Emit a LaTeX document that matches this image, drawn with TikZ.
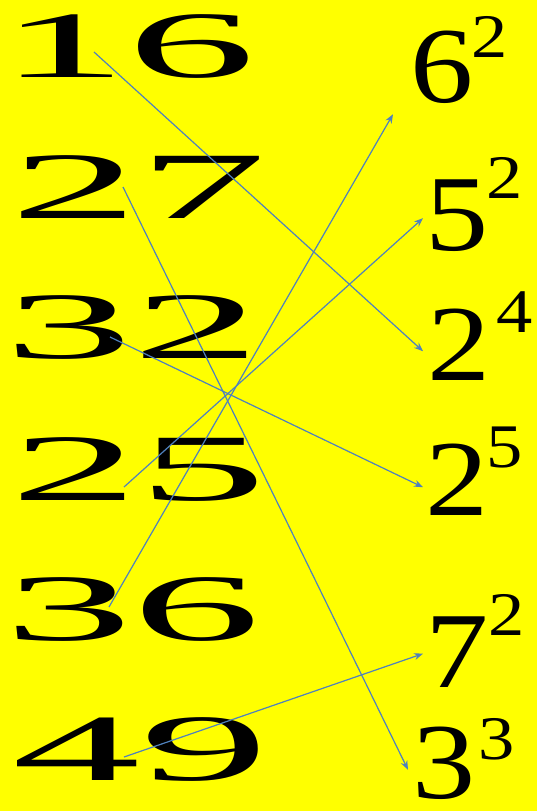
\documentclass[tikz,border=0pt]{standalone}
\usepackage{fontspec}
\setmainfont{Liberation Serif}
\usepackage{graphicx}
\usetikzlibrary{arrows.meta}
\definecolor{bgyellow}{RGB}{255,255,0}
\definecolor{arrblue}{RGB}{79,129,189}
\newcommand{\widenum}[1]{\scalebox{2.7}[1]{#1}}
\newcommand{\powdigit}[1]{\scalebox{1.17}[1]{#1}}

\begin{document}
\begin{tikzpicture}[x=1pt, y=-1pt,
    lnum/.style={anchor=base west, inner sep=0pt, font=\fontsize{95}{95}\selectfont},
    pw/.style={anchor=base west, inner sep=0pt, font=\fontsize{108}{108}\selectfont},
    ex/.style={anchor=base west, inner sep=0pt, font=\fontsize{62}{62}\selectfont},
    ar/.style={arrblue, line width=1.2pt, -{Stealth[length=9pt, width=7pt, inset=3pt]}}
  ]
  % background
  \fill[bgyellow] (0,0) rectangle (537,811);
  \useasboundingbox (0,0) rectangle (537,811);
  % left column: the numbers
  \node[lnum] (n16) at (-1,77) {\widenum{16}};
  \node[lnum] (n27) at (10,218) {\widenum{27}};
  \node[lnum] (n32) at (4,358) {\widenum{32}};
  \node[lnum] (n25) at (10,500) {\widenum{25}};
  \node[lnum] (n36) at (4,640) {\widenum{36}};
  \node[lnum] (n49) at (12,780) {\widenum{49}};
  % right column: the powers
  \node[pw] (p62) at (410,102) {\powdigit{6}};
  \node[ex] (x62) at (471,57) {\powdigit{2}};
  \node[pw] (p52) at (425,250) {\powdigit{5}};
  \node[ex] (x52) at (486,198) {\powdigit{2}};
  \node[pw] (p24) at (427,380) {\powdigit{2}};
  \node[ex] (x24) at (496,332) {\powdigit{4}};
  \node[pw] (p25) at (425,515) {\powdigit{2}};
  \node[ex] (x25) at (486,467) {\powdigit{5}};
  \node[pw] (p72) at (425,687) {\powdigit{7}};
  \node[ex] (x72) at (488,635) {\powdigit{2}};
  \node[pw] (p33) at (412,798) {\powdigit{3}};
  \node[ex] (x33) at (478,759) {\powdigit{3}};
  % arrows
  \draw[ar] ([shift={(95,-25)}]n16.base west) -- ([shift={(-4,7)}]p24.west);
  \draw[ar] ([shift={(113,-31)}]n27.base west) -- ([shift={(-4,7)}]p33.west);
  \draw[ar] ([shift={(106,-21)}]n32.base west) -- ([shift={(-2,8)}]p25.west);
  \draw[ar] ([shift={(114,-13)}]n25.base west) -- ([shift={(-2,3)}]p52.west);
  \draw[ar] ([shift={(105,-33)}]n36.base west) -- ([shift={(-17,11)}]p62.south west);
  \draw[ar] ([shift={(112,-23)}]n49.base west) -- ([shift={(-2,2)}]p72.west);
\end{tikzpicture}
\end{document}
